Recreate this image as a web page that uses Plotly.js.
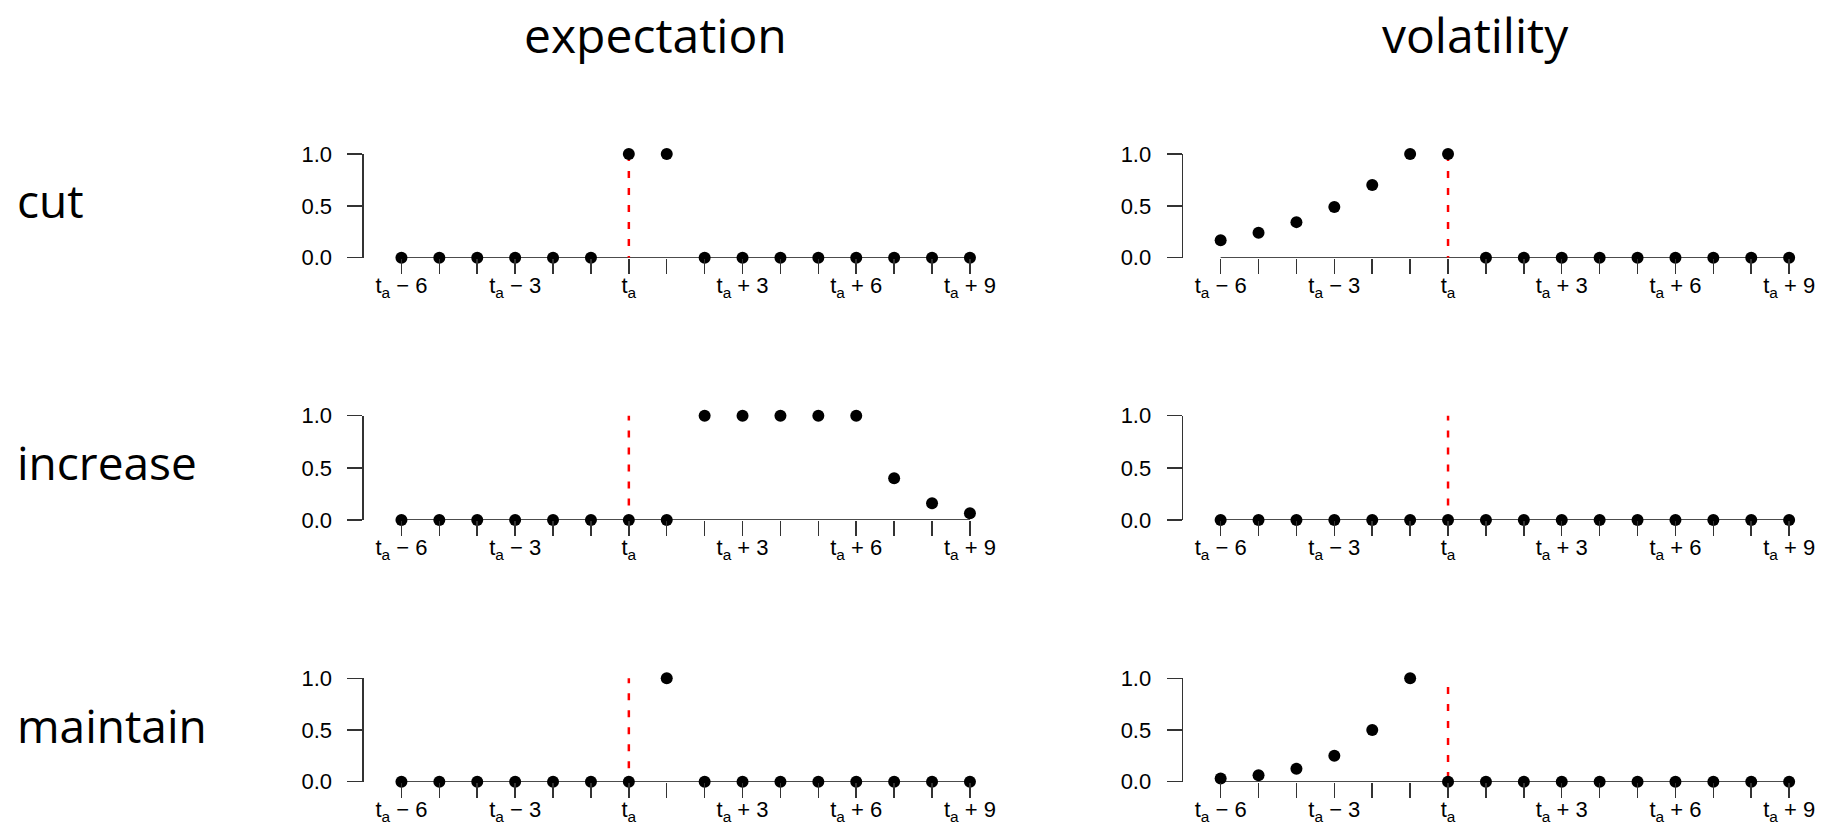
<!DOCTYPE html>
<html>
<head>
<meta charset="utf-8">
<script src="https://cdn.plot.ly/plotly-3.0.1.min.js"></script>
<style>
  html, body { margin: 0; padding: 0; background: #ffffff; }
  #chart { width: 1835px; height: 827px; }
</style>
</head>
<body>
<div id="chart"></div>
<script>
// ---- data ----
const periods = [-6, -5, -4, -3, -2, -1, 0, 1, 2, 3, 4, 5, 6, 7, 8, 9];
const labelledPeriods = [-6, -3, 0, 3, 6, 9];
const periodLabels = ["t<sub>a</sub> \u2212 6", "t<sub>a</sub> \u2212 3", "t<sub>a</sub>",
                      "t<sub>a</sub> + 3", "t<sub>a</sub> + 6", "t<sub>a</sub> + 9"];
const columnTitles = ["expectation", "volatility"];
const rowTitles = ["cut", "increase", "maintain"];

const cutExpectation      = [0, 0, 0, 0, 0, 0, 1, 1, 0, 0, 0, 0, 0, 0, 0, 0];
const cutVolatility       = [0.168, 0.240, 0.343, 0.490, 0.700, 1, 1, 0, 0, 0, 0, 0, 0, 0, 0, 0];
const increaseExpectation = [0, 0, 0, 0, 0, 0, 0, 0, 1, 1, 1, 1, 1, 0.40, 0.16, 0.064];
const increaseVolatility  = [0, 0, 0, 0, 0, 0, 0, 0, 0, 0, 0, 0, 0, 0, 0, 0];
const maintainExpectation = [0, 0, 0, 0, 0, 0, 0, 1, 0, 0, 0, 0, 0, 0, 0, 0];
const maintainVolatility  = [0.031, 0.0625, 0.125, 0.25, 0.5, 1, 0, 0, 0, 0, 0, 0, 0, 0, 0, 0];

const announcementPeriod = 0;
const yTickVals = [0, 0.5, 1];
const yTickText = ["0.0", "0.5", "1.0"];

// ---- layout helpers ----
const W = 1835, H = 827;
const panelValues = [
  [cutExpectation, cutVolatility],
  [increaseExpectation, increaseVolatility],
  [maintainExpectation, maintainVolatility]
];
const dashTop = [[1.0, 1.0], [1.02, 1.02], [1.02, 1.08]];
const colLeftPx = [364.3, 1183.5];
const unitPx = 37.9;
const xRange = [-6.99, 9.5];
const rowTopPx = [154, 415.7, 678.3];
const rowBottomPx = [257.7, 520, 781.7];

const tickFont = { family: "Liberation Sans, Arial, sans-serif", size: 22, color: "#000" };
const textFont = "Open Sans, DejaVu Sans, sans-serif";

const traces = [];
const layout = {
  width: W, height: H,
  margin: { l: 0, r: 0, t: 0, b: 0, pad: 0 },
  paper_bgcolor: "#ffffff",
  plot_bgcolor: "rgba(0,0,0,0)",
  showlegend: false,
  annotations: []
};

let k = 0;
for (let r = 0; r < 3; r++) {
  for (let c = 0; c < 2; c++) {
    k++;
    const xa = k === 1 ? "x" : "x" + k;
    const ya = k === 1 ? "y" : "y" + k;
    const xKey = k === 1 ? "xaxis" : "xaxis" + k;
    const yKey = k === 1 ? "yaxis" : "yaxis" + k;
    const x0 = colLeftPx[c] - 0.01 * unitPx;
    const x1 = x0 + (xRange[1] - xRange[0]) * unitPx;
    layout[xKey] = {
      domain: [x0 / W, x1 / W],
      range: xRange,
      anchor: ya,
      showline: false, showgrid: false, zeroline: false,
      tickmode: "array", tickvals: labelledPeriods, ticktext: periodLabels,
      ticks: "outside", ticklen: 15, tickwidth: 1.5, tickcolor: "#333",
      minor: { ticks: "outside", ticklen: 15, tickwidth: 1.5, tickcolor: "#333",
               tick0: 0, dtick: 1, showgrid: false },
      ticklabelstandoff: -7,
      tickfont: tickFont,
      fixedrange: true
    };
    layout[yKey] = {
      domain: [1 - rowBottomPx[r] / H, 1 - rowTopPx[r] / H],
      range: [0, 1],
      anchor: xa,
      showline: true, linecolor: "#333", linewidth: 1.5,
      showgrid: false, zeroline: false,
      tickmode: "array", tickvals: yTickVals, ticktext: yTickText,
      ticks: "outside", ticklen: 15, tickwidth: 1.5, tickcolor: "#333",
      ticklabelstandoff: 11,
      tickfont: tickFont,
      fixedrange: true
    };
    traces.push({
      type: "scatter", mode: "lines", xaxis: xa, yaxis: ya,
      x: [periods[0], periods[periods.length - 1]], y: [0, 0],
      line: { color: "#111", width: 1.6 },
      cliponaxis: false, hoverinfo: "skip"
    });
    traces.push({
      type: "scatter", mode: "lines", xaxis: xa, yaxis: ya,
      x: [announcementPeriod, announcementPeriod], y: [dashTop[r][c], 0],
      line: { color: "#ff0000", width: 2.5, dash: "7px,10px", simplify: false },
      cliponaxis: false, hoverinfo: "skip"
    });
    traces.push({
      type: "scatter", mode: "markers", xaxis: xa, yaxis: ya,
      x: periods, y: panelValues[r][c],
      marker: { color: "#000", size: 12, line: { width: 0 } },
      cliponaxis: false
    });
  }
}

const colTitleX = [655, 1475];
for (let c = 0; c < 2; c++) {
  layout.annotations.push({
    text: columnTitles[c], xref: "paper", yref: "paper",
    x: colTitleX[c] / W, y: 1, xanchor: "center", yanchor: "top",
    showarrow: false, font: { family: textFont, size: 48, color: "#000" }
  });
}
for (let r = 0; r < 3; r++) {
  const mid = (rowTopPx[r] + rowBottomPx[r]) / 2;
  layout.annotations.push({
    text: rowTitles[r], xref: "paper", yref: "paper",
    x: 15 / W, y: 1 - (mid - 5.5) / H, xanchor: "left", yanchor: "middle",
    showarrow: false, font: { family: textFont, size: 46, color: "#000" }
  });
}

Plotly.newPlot("chart", traces, layout, { displayModeBar: false, staticPlot: true });
</script>
</body>
</html>
